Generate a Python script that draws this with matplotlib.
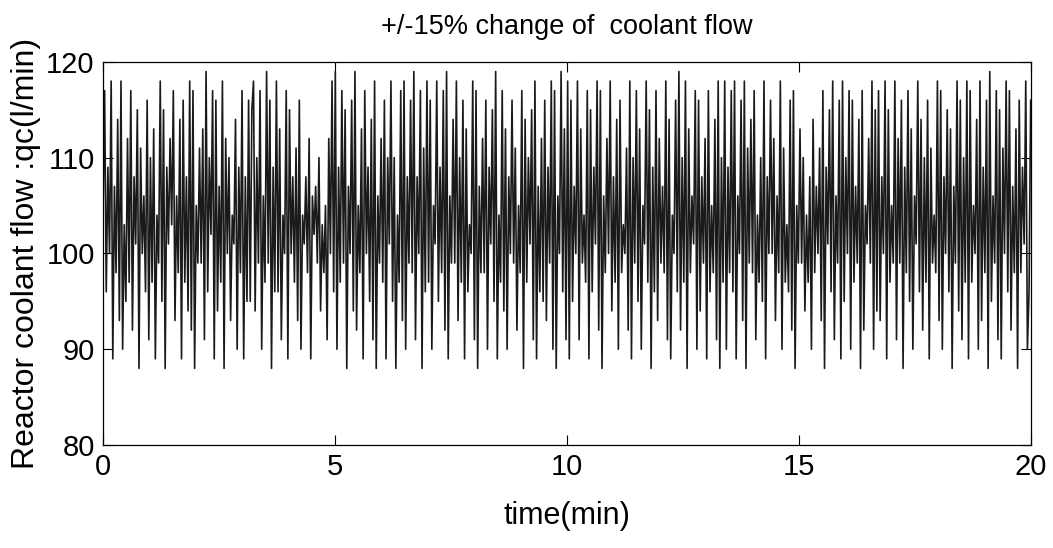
import numpy as np
import matplotlib
matplotlib.use("Agg")
import matplotlib.pyplot as plt

title_text = "+/-15% change of  coolant flow"
x_label = "time(min)"
y_label = "Reactor coolant flow :qc(l/min)"
x_ticks = [0, 5, 10, 15, 20]
y_ticks = [80, 90, 100, 110, 120]

seg1 = [104, 117, 96, 109, 100, 118, 89, 107, 98, 114, 93, 118, 90, 103, 95, 112, 97, 117, 92, 108, 101, 115, 88, 111, 100, 106, 96, 116, 91, 110, 97, 113, 89, 104, 99, 118, 95, 115, 88, 109, 101, 112, 103, 117, 93, 106, 98, 114, 89, 116, 97, 108, 94, 118, 92, 117, 88, 105, 99, 111, 99, 113, 91, 119, 96, 110, 102, 117, 89, 116, 94, 107, 97, 118, 88, 112, 100, 110, 93, 104, 101, 114, 90, 109, 98, 117, 89, 108, 95, 116, 95, 115]
seg2 = [118, 94, 110, 99, 117, 90, 106, 97, 119, 99, 116, 88, 109, 96, 118, 96, 113, 91, 104, 100, 117, 89, 115, 100, 108, 97, 111, 93, 116, 90, 104, 101, 108, 98, 112, 89, 106, 102, 107, 99, 110, 94, 103, 98, 105, 91, 112, 100, 118, 96, 119, 90, 109, 97, 117, 99, 115, 88, 107, 100, 116, 94, 119, 92, 105, 98, 113, 89, 117, 100, 109, 95, 114, 91, 118, 88, 106, 99, 112, 97, 116, 89, 110, 101, 118, 95, 110, 88, 104, 97, 117, 93, 118, 90, 108, 99, 116, 98]
seg3 = [119, 91, 108, 100, 117, 88, 111, 96, 118, 97, 116, 90, 105, 101, 118, 95, 109, 98, 117, 92, 119, 89, 106, 99, 114, 99, 118, 93, 110, 97, 116, 89, 113, 96, 103, 100, 118, 91, 117, 88, 107, 98, 112, 98, 116, 90, 109, 101, 115, 95, 119, 89, 104, 97, 117, 94, 113, 90, 108, 100, 116, 99, 111, 92, 105, 98, 117, 88, 114, 97, 110, 101, 115, 91, 118, 89, 107, 96, 112, 95, 116, 93, 109, 99, 118, 90, 117, 88, 106, 100, 119, 96, 113, 91, 118, 89]
seg4 = [116, 95, 107, 100, 118, 91, 113, 99, 104, 97, 117, 89, 115, 96, 109, 101, 118, 92, 117, 88, 106, 98, 112, 100, 118, 94, 108, 97, 114, 90, 116, 98, 103, 100, 111, 92, 118, 89, 110, 99, 117, 95, 113, 90, 105, 101, 118, 97, 115, 88, 109, 96, 117, 93, 112, 99, 107, 98, 118, 91, 114, 89, 104, 100, 116, 96, 119, 92, 110, 97, 118, 88, 113, 98, 106, 101, 117, 90, 116, 94, 108, 99, 112, 89, 117, 96, 105, 98, 114, 91, 118, 88, 110, 97]
seg5 = [118, 90, 109, 98, 117, 96, 118, 89, 106, 100, 116, 93, 118, 88, 111, 99, 114, 98, 117, 91, 104, 97, 110, 95, 118, 89, 108, 100, 116, 100, 112, 93, 106, 98, 118, 90, 111, 97, 103, 96, 116, 92, 117, 88, 105, 99, 113, 99, 110, 94, 104, 97, 108, 90, 114, 98, 107, 100, 111, 93, 117, 88, 109, 101, 115, 96, 118, 91, 106, 99, 116, 89, 118, 95, 110, 100, 117, 90, 116, 97, 107, 99, 114, 88, 117, 92, 105, 101, 112, 99, 118, 90, 115, 94]
seg6 = [117, 93, 108, 100, 118, 89, 115, 97, 105, 99, 118, 91, 112, 99, 116, 88, 109, 98, 117, 95, 113, 90, 106, 101, 118, 96, 114, 92, 110, 97, 116, 89, 111, 99, 104, 98, 118, 93, 117, 90, 108, 100, 115, 96, 113, 88, 107, 99, 118, 94, 116, 91, 110, 97, 118, 89, 117, 97, 105, 100, 114, 90, 118, 93, 109, 98, 116, 88, 119, 95, 106, 99, 117, 91, 115, 89, 111, 100, 118, 96, 117, 92, 107, 98, 113, 88, 116, 98, 109, 101, 118, 90, 96, 116]

flow = seg1 + seg2 + seg3 + seg4 + seg5 + seg6
time = np.linspace(0, 20, len(flow))

font = "Liberation Sans"

fig = plt.figure(figsize=(10.53, 5.48), dpi=100)
ax = fig.add_axes([0.0978, 0.188, 0.881, 0.699])
ax.plot(time, flow, color="#1a1a1a", linewidth=1.2)
ax.set_xlim(0, 20)
ax.set_ylim(80, 120)
ax.set_xticks(x_ticks)
ax.set_yticks(y_ticks)
ax.set_xticklabels([str(v) for v in x_ticks], family=font, fontsize=21)
ax.set_yticklabels([str(v) for v in y_ticks], family=font, fontsize=21)
ax.tick_params(direction="in", length=7, width=0.8, top=True, right=True, pad=6)
for s in ax.spines.values():
    s.set_linewidth(0.9)
ax.set_title(title_text, family=font, fontsize=19.5, pad=20)
ax.set_xlabel(x_label, family=font, fontsize=22, labelpad=14)
ax.set_ylabel(y_label, family=font, fontsize=23, labelpad=4)
fig.savefig("out.png", dpi=100)
